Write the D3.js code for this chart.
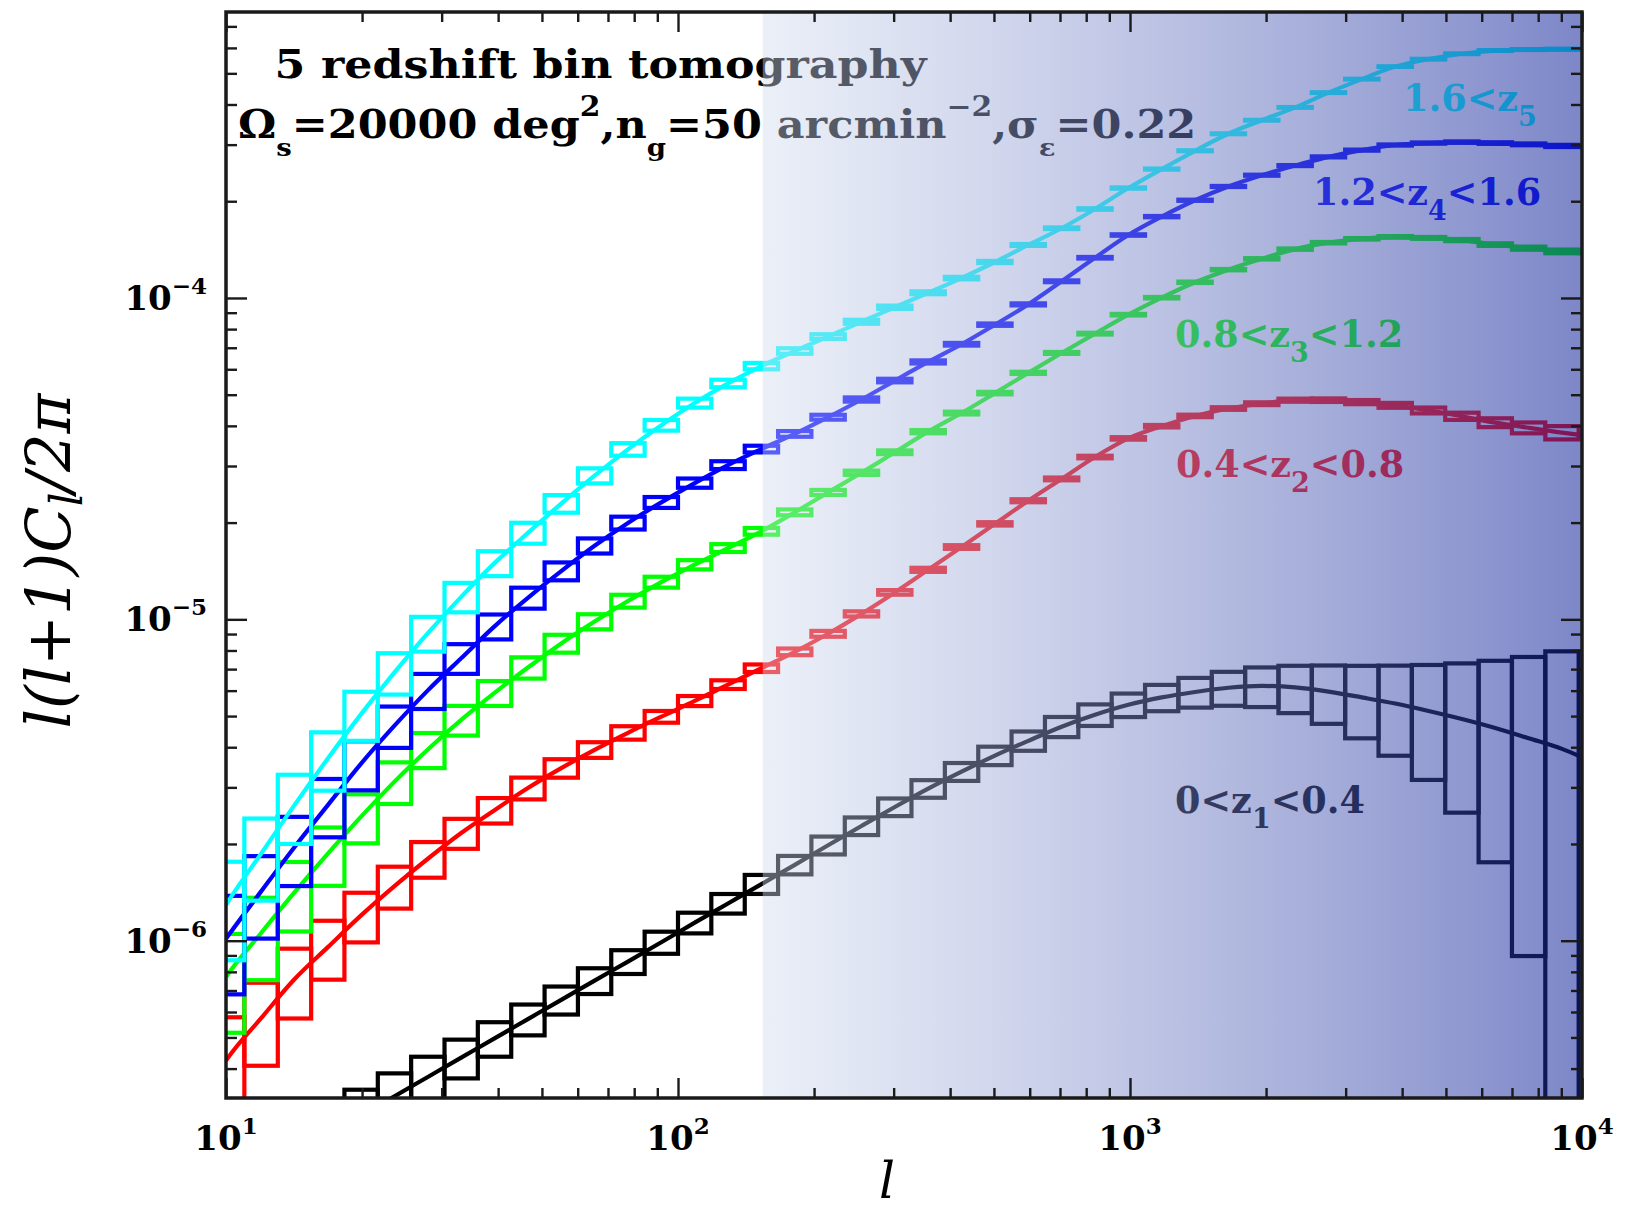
<!DOCTYPE html>
<html><head><meta charset="utf-8">
<script src="https://cdn.jsdelivr.net/npm/d3@7"></script>
<style>html,body{margin:0;padding:0;background:#fff;} svg{display:block}</style>
</head><body>
<svg id="chart" width="1627" height="1211"></svg>
<script>
// ---------------- DATA ----------------
// l-bin edges and centres (log-spaced multipole bins)
const binEdges = [9.26, 10.98, 13.02, 15.43, 18.28, 21.67, 25.68, 30.44, 36.07, 42.76, 50.68, 60.06, 71.18, 84.37, 100, 118.5, 140.5, 166.5, 197.3, 233.9, 277.2, 328.5, 389.4, 461.6, 547.0, 648.4, 768.5, 910.9, 1079.6, 1279.4, 1516.6, 1797.4, 2130.4, 2524.9, 2992.3, 3546.6, 4203.5, 4981.9, 5904.8, 6998.4, 8294.5, 9830.9];
const binCenters = [10.08, 11.96, 14.17, 16.8, 19.9, 23.59, 27.96, 33.14, 39.27, 46.55, 55.17, 65.38, 77.5, 91.85, 108.9, 129.0, 153.0, 181.3, 214.8, 254.6, 301.8, 357.7, 424.0, 502.5, 595.6, 705.9, 836.7, 991.7, 1175.3, 1393, 1651, 1957, 2319, 2749, 3258, 3861, 4576, 5424, 6428, 7619, 9030];
const UNIT = 1e-6;   // values below are l(l+1)C_l/2pi in units of 1e-6
const lRange = [10, 10000];

// 0<z1<0.4
const z1Cl  = [0.1648,0.1892,0.2168,0.2489,0.2858,0.3281,0.3767,0.4325,0.4966,0.5702,0.6546,0.7516,0.8610,0.9886,1.138,1.306,1.500,1.722,1.982,2.275,2.606,2.972,3.357,3.767,4.188,4.634,5.047,5.420,5.715,5.943,6.124,6.209,6.138,5.957,5.715,5.470,5.188,4.898,4.592,4.266,3.954];
const z1Err = [0.363,0.312,0.270,0.234,0.203,0.178,0.156,0.138,0.123,0.110,0.100,0.092,0.085,0.079,0.074,0.070,0.068,0.066,0.064,0.063,0.063,0.063,0.064,0.066,0.069,0.072,0.077,0.084,0.094,0.106,0.121,0.141,0.168,0.206,0.254,0.312,0.390,0.489,0.618,0.790,1.011];
const z1Ends = [0.1623, 3.724];
// 0.4<z2<0.8
const z2Cl  = [0.4305,0.5741,0.7586,0.9550,1.199,1.479,1.799,2.163,2.547,2.985,3.443,3.926,4.436,4.977,5.572,6.266,7.047,7.925,9.016,10.40,12.13,14.26,16.79,19.82,23.39,27.35,31.99,36.56,39.90,42.95,45.29,46.88,48.08,48.08,47.42,46.34,44.67,42.85,40.93,39.45,38.11];
const z2Err = [0.342,0.289,0.245,0.208,0.176,0.149,0.127,0.107,0.091,0.078,0.066,0.056,0.048,0.042,0.036,0.031,0.027,0.0238,0.0209,0.0185,0.0165,0.0147,0.0132,0.0120,0.0109,0.0101,0.0094,0.0089,0.0088,0.0090,0.0094,0.0101,0.0111,0.0127,0.0148,0.0175,0.0211,0.0258,0.0317,0.0389,0.0476];
const z2Ends = [0.4236, 37.41];
// 0.8<z3<1.2
const z3Cl  = [0.7834,1.057,1.413,1.866,2.432,3.126,3.936,4.864,5.902,7.079,8.414,9.840,11.40,13.06,14.79,16.67,18.79,21.53,24.83,28.58,33.11,38.37,43.85,50.58,58.48,67.45,77.45,88.72,100.2,111.9,122.5,132.4,141.9,148.6,152.8,154.9,153.8,151.4,146.6,142.9,139.6];
const z3Err = [0.340,0.287,0.244,0.206,0.174,0.148,0.125,0.106,0.089,0.076,0.064,0.054,0.046,0.039,0.033,0.028,0.024,0.0209,0.0179,0.0154,0.0133,0.0116,0.0101,0.0089,0.0079,0.0070,0.0063,0.0057,0.0053,0.0050,0.0048,0.0047,0.0048,0.0050,0.0053,0.0059,0.0067,0.0078,0.0092,0.0111,0.0133];
const z3Ends = [0.771, 137.7];
// 1.2<z4<1.6
const z4Cl  = [1.030,1.424,1.954,2.642,3.556,4.667,6.012,7.568,9.506,11.67,14.13,16.94,19.95,23.12,26.55,30.20,33.88,37.76,42.56,48.31,55.34,63.24,71.78,82.60,95.50,112.7,133.4,157.0,179.1,201.4,222.3,241.0,258.2,274.8,288.4,299.2,303.4,305.5,303.4,300.6,297.2];
const z4Err = [0.339,0.287,0.243,0.206,0.174,0.147,0.125,0.106,0.089,0.075,0.064,0.054,0.046,0.039,0.033,0.028,0.024,0.0204,0.0174,0.0150,0.0129,0.0111,0.0096,0.0084,0.0074,0.0065,0.0057,0.0051,0.0046,0.0042,0.0039,0.0038,0.0037,0.0037,0.0038,0.0040,0.0044,0.0050,0.0057,0.0066,0.0078];
const z4Ends = [1.014, 295.8];
// 1.6<z5
const z5Cl  = [1.315,1.866,2.642,3.690,5.070,6.839,9.057,11.75,14.96,18.58,22.91,27.99,33.81,40.18,47.10,54.20,61.38,68.39,75.86,84.33,93.54,103.8,115.3,129.4,146.2,164.8,189.2,219.8,251.8,287.1,324.3,357.3,391.7,435.5,479.7,524.8,553.4,575.4,588.8,592.9,594.3];
const z5Err = [0.339,0.286,0.243,0.206,0.174,0.147,0.124,0.105,0.089,0.075,0.063,0.054,0.045,0.038,0.032,0.027,0.023,0.0198,0.0168,0.0143,0.0122,0.0105,0.0090,0.0078,0.0067,0.0059,0.0051,0.0045,0.0040,0.0036,0.0032,0.0030,0.0028,0.0027,0.0026,0.0025,0.0026,0.0027,0.0030,0.0033,0.0038];
const z5Ends = [1.291, 594.3];

const seriesColors = ["#000000", "#ff0000", "#00ff00", "#0000ff", "#00ffff"];
const labelTexts = [["0<z","1","<0.4"], ["0.4<z","2","<0.8"], ["0.8<z","3","<1.2"], ["1.2<z","4","<1.6"], ["1.6<z","5",""]];
const shadeStartL = 154;

const xTickValues = [10, 100, 1000, 10000];
const xTickExps = ["1", "2", "3", "4"];
const yTickValues = [1e-6, 1e-5, 1e-4];
const yTickExps = ["\u22126", "\u22125", "\u22124"];

const titleLine1 = "5 redshift bin tomography";
const titleLine2 = [["\u03A9",0],["s",1],["=20000 deg",0],["2",2],[",n",0],["g",1],["=50 arcmin",0],["\u22122",2],[",\u03C3",0],["\u03B5",1],["=0.22",0]];

// ---------------- DRAWING ----------------
const W = 1627, H = 1211;
const M = {left: 226, right: 1582, top: 12, bottom: 1098};
const x = d3.scaleLog().domain(lRange).range([M.left, M.right]);
const y = d3.scaleLog().domain([3.24e-7, 7.76e-4]).range([M.bottom, M.top]);
const FONT = "'DejaVu Serif', serif";

const svg = d3.select("#chart");
svg.append("rect").attr("width", W).attr("height", H).attr("fill", "#fff");
const defs = svg.append("defs");
defs.append("clipPath").attr("id", "plotClip").append("rect")
  .attr("x", M.left).attr("y", M.top).attr("width", M.right - M.left).attr("height", M.bottom - M.top);
const grad = defs.append("linearGradient").attr("id", "shade")
  .attr("x1", "0%").attr("x2", "100%").attr("y1", "0%").attr("y2", "0%");
grad.append("stop").attr("offset", "0%").attr("stop-color", "rgb(209,219,239)").attr("stop-opacity", 0.43);
grad.append("stop").attr("offset", "100%").attr("stop-color", "rgb(19,37,155)").attr("stop-opacity", 0.55);

const series = [
  {cl: z1Cl, err: z1Err, ends: z1Ends},
  {cl: z2Cl, err: z2Err, ends: z2Ends},
  {cl: z3Cl, err: z3Err, ends: z3Ends},
  {cl: z4Cl, err: z4Err, ends: z4Ends},
  {cl: z5Cl, err: z5Err, ends: z5Ends}
].map((s, i) => Object.assign(s, {color: seriesColors[i], label: labelTexts[i]}));

const plot = svg.append("g").attr("clip-path", "url(#plotClip)");
const SW = 4.2;
series.forEach(s => {
  const g = plot.append("g");
  const boxes = s.cl.map((v, i) => {
    const c = v * UNIT, f = s.err[i];
    const hi = c * (1 + f), lo = c * (1 - f);
    return {x0: x(binEdges[i]), x1: x(binEdges[i + 1]), y0: y(hi), y1: lo > 0 ? Math.min(y(lo), M.bottom + 40) : M.bottom + 40};
  });
  g.selectAll("rect.box").data(boxes).join("rect").attr("class", "box")
    .attr("x", d => d.x0).attr("width", d => d.x1 - d.x0)
    .attr("y", d => d.y0).attr("height", d => Math.max(0.01, d.y1 - d.y0))
    .attr("fill", "none").attr("stroke", s.color).attr("stroke-width", SW);
  const pts = [[lRange[0], s.ends[0]]].concat(binCenters.map((l, i) => [l, s.cl[i]])).concat([[lRange[1], s.ends[1]]]);
  g.append("path")
    .attr("d", d3.line().x(d => x(d[0])).y(d => y(d[1] * UNIT)).curve(d3.curveMonotoneX)(pts))
    .attr("fill", "none").attr("stroke", s.color).attr("stroke-width", SW);
});

function fitText(sel, tx, ty, target, rot) {
  const w = sel.node().getComputedTextLength();
  const s = target ? target / w : 1;
  sel.attr("transform", `translate(${tx},${ty})` + (rot ? ` rotate(${rot})` : "") + ` scale(${s},1)`);
}

// title texts
const t1 = svg.append("text").attr("font-family", FONT).attr("font-weight", "bold").attr("font-size", 39).attr("fill", "#000").text(titleLine1);
fitText(t1, 274.6, 78.3, 652);
const t2 = svg.append("text").attr("font-family", FONT).attr("font-weight", "bold").attr("font-size", 39).attr("fill", "#000");
let lvl = 0;
titleLine2.forEach(([txt, kind]) => {
  const sp = t2.append("tspan").text(txt);
  const target = kind === 1 ? 18 : kind === 2 ? -22 : 0;
  const dy = target - lvl; lvl = target;
  if (dy) sp.attr("dy", dy);
  if (kind) sp.attr("font-size", kind === 1 ? 25 : 27);
});
fitText(t2, 238, 138.3, 958.7);

// curve labels
const labelPos = [[1175, 813], [1176, 477], [1175, 347], [1313, 205], [1403, 111]];
series.forEach((s, i) => {
  const t = svg.append("text").attr("font-family", FONT).attr("font-weight", "bold").attr("font-size", 36.6)
    .attr("fill", s.color).attr("x", labelPos[i][0]).attr("y", labelPos[i][1]);
  t.append("tspan").text(s.label[0]);
  t.append("tspan").attr("font-size", 27).attr("dy", 15).text(s.label[1]);
  if (s.label[2]) t.append("tspan").attr("dy", -15).text(s.label[2]);
});

// shaded overlay
svg.append("rect").attr("x", x(shadeStartL)).attr("y", M.top).attr("width", M.right - x(shadeStartL)).attr("height", M.bottom - M.top)
  .attr("fill", "url(#shade)");

// ticks (all four sides, inward)
const xMinor = [], yMinor = [];
[10, 100, 1000].forEach(d => { for (let k = 2; k <= 9; k++) xMinor.push(d * k); });
[1e-7, 1e-6, 1e-5, 1e-4].forEach(d => { for (let k = 2; k <= 9; k++) { const v = d * k; if (v > y.domain()[0] && v < y.domain()[1]) yMinor.push(v); } });
function addAxis(gen, tr) {
  const g = svg.append("g").attr("transform", tr).call(gen);
  g.select(".domain").remove();
  g.selectAll(".tick text").remove();
  g.selectAll(".tick line").attr("stroke", "#1a1a1a").attr("stroke-width", 2.4);
}
addAxis(d3.axisBottom(x).tickValues(xTickValues).tickSize(-20), `translate(0,${M.bottom})`);
addAxis(d3.axisBottom(x).tickValues(xMinor).tickSize(-10), `translate(0,${M.bottom})`);
addAxis(d3.axisTop(x).tickValues(xTickValues).tickSize(-20), `translate(0,${M.top})`);
addAxis(d3.axisTop(x).tickValues(xMinor).tickSize(-10), `translate(0,${M.top})`);
addAxis(d3.axisLeft(y).tickValues(yTickValues).tickSize(-21), `translate(${M.left},0)`);
addAxis(d3.axisLeft(y).tickValues(yMinor).tickSize(-11), `translate(${M.left},0)`);
addAxis(d3.axisRight(y).tickValues(yTickValues).tickSize(-21), `translate(${M.right},0)`);
addAxis(d3.axisRight(y).tickValues(yMinor).tickSize(-11), `translate(${M.right},0)`);

// frame
svg.append("rect").attr("x", M.left).attr("y", M.top).attr("width", M.right - M.left).attr("height", M.bottom - M.top)
  .attr("fill", "none").attr("stroke", "#1a1a1a").attr("stroke-width", 3.5);

// tick labels
xTickValues.forEach((v, i) => {
  const t = svg.append("text").attr("font-family", FONT).attr("font-weight", "bold").attr("font-size", 34)
    .attr("x", x(v)).attr("y", 1150).attr("text-anchor", "middle").attr("fill", "#000");
  t.append("tspan").text("10");
  t.append("tspan").attr("font-size", 23).attr("dy", -16).text(xTickExps[i]);
});
yTickValues.forEach((v, i) => {
  const t = svg.append("text").attr("font-family", FONT).attr("font-weight", "bold").attr("font-size", 34)
    .attr("x", 207).attr("y", y(v) + 12).attr("text-anchor", "end").attr("fill", "#000");
  t.append("tspan").text("10");
  t.append("tspan").attr("font-size", 23).attr("dy", -16).text(yTickExps[i]);
});

// axis titles
const yt = svg.append("text").attr("font-family", FONT).attr("font-style", "italic").attr("font-size", 62)
  .attr("text-anchor", "middle").attr("fill", "#000");
yt.append("tspan").text("l(l+1)C");
yt.append("tspan").attr("font-size", 44).attr("dy", 12).text("l");
yt.append("tspan").attr("dy", -12).text("/2\u03C0");
fitText(yt, 70, 561, 335, -90);
svg.append("text").attr("font-family", FONT).attr("font-style", "italic").attr("font-size", 50)
  .attr("x", 887).attr("y", 1198).attr("text-anchor", "middle").attr("fill", "#000").text("l");
</script>
</body></html>
